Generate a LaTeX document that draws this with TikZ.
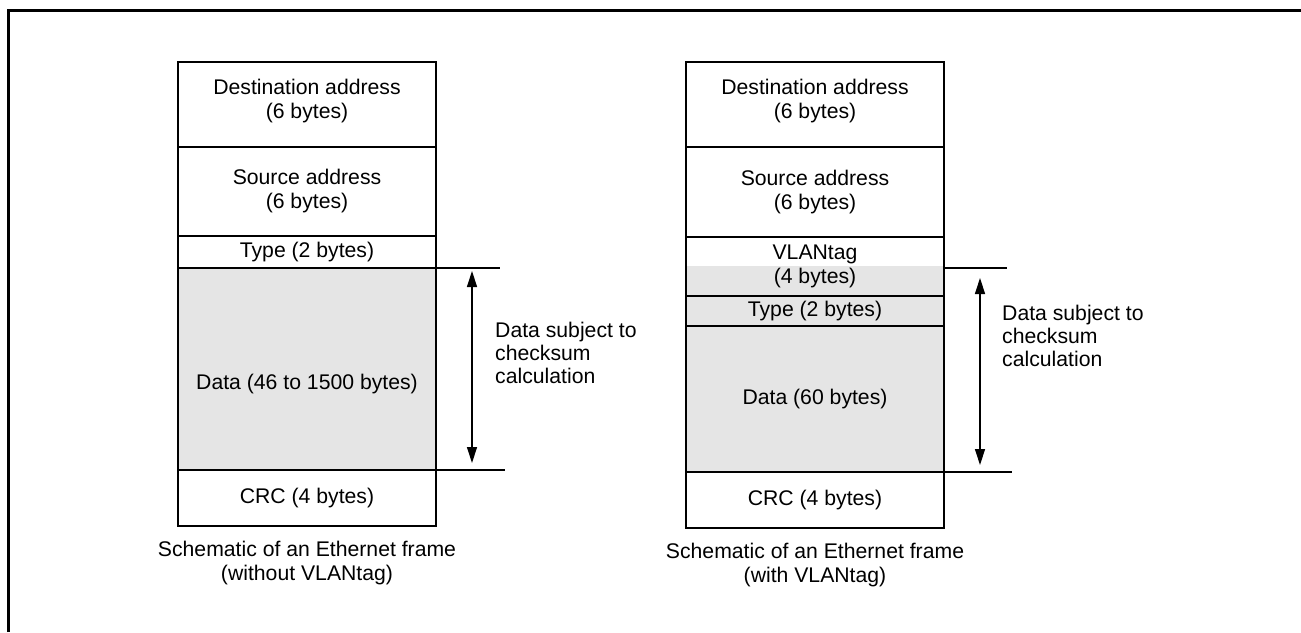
\documentclass[tikz,border=0pt]{standalone}
\usepackage{fontspec}
\setmainfont{Liberation Sans}
\usetikzlibrary{arrows.meta,positioning,backgrounds}
\definecolor{datagray}{gray}{0.9}
\tikzset{
  field/.style    ={draw, line width=2.8pt, minimum width=258pt, inner sep=0pt,
                    outer sep=0pt, align=center, font=\fontsize{21.2}{24}\selectfont},
  fdata/.style    ={field, fill=datagray},
  fnote/.style    ={align=left, inner sep=0pt, font=\fontsize{21.2}{23}\selectfont},
  fcap/.style     ={align=center, inner sep=0pt, font=\fontsize{21.2}{24}\selectfont},
  extline/.style  ={line width=2.6pt},
  dimarrow/.style ={{Triangle[length=16pt,width=10pt]}-{Triangle[length=16pt,width=10pt]},
                    line width=1.3pt},
  frameline/.style={line width=3pt},
}
\begin{document}
\begin{tikzpicture}[x=1pt, y=-1pt]
\useasboundingbox (0,0) rectangle (1301,632);

% outer frame (only top and left edges are visible)
\draw[frameline] (8,632) -- (8,10) -- (1301,10);

% frame without VLAN tag
\node[field, minimum height=85pt, text depth=12pt, anchor=north west] (dstA) at (178,62)
  {Destination address\\(6 bytes)};
\node[field, minimum height=89pt, below=0pt of dstA] (srcA) {Source address\\(6 bytes)};
\node[field, minimum height=32pt, below=0pt of srcA] (typeA) {Type (2 bytes)};
\node[fdata, minimum height=202pt, text height=45pt, below=0pt of typeA] (dataA)
  {Data (46 to 1500 bytes)};
\node[field, minimum height=56pt, below=0pt of dataA] (crcA) {CRC (4 bytes)};
\node[fcap, below=15pt of crcA] (capA)
  {Schematic of an Ethernet frame\\(without VLANtag)};

\draw[extline] (dataA.north east) -- ++(64,0) coordinate (topA);
\draw[extline] (dataA.south east) -- ++(69,0) coordinate (botA);
\draw[dimarrow, shorten <=3pt, shorten >=7pt]
  ([xshift=36pt]dataA.north east) -- ([xshift=36pt]dataA.south east);
\node[fnote, anchor=west] (chkA) at ([xshift=59pt, yshift=16pt]dataA.east)
  {Data subject to\\checksum\\calculation};

% frame with VLAN tag
\node[field, minimum height=85pt, text depth=12pt, anchor=north west] (dstB) at (686,62)
  {Destination address\\(6 bytes)};
\node[field, minimum height=90pt, below=0pt of dstB] (srcB) {Source address\\(6 bytes)};
\node[field, minimum height=59pt, below=0pt of srcB] (vlanB) {VLANtag\\(4 bytes)};
\node[fdata, minimum height=30pt, below=0pt of vlanB] (typeB) {Type (2 bytes)};
\node[fdata, minimum height=146pt, below=0pt of typeB] (dataB) {Data (60 bytes)};
\node[field, minimum height=56pt, below=0pt of dataB] (crcB) {CRC (4 bytes)};
\node[fcap, below=15pt of crcB] (capB)
  {Schematic of an Ethernet frame\\(with VLANtag)};

% lower half of the VLAN tag is checked too
\begin{scope}[on background layer]
  \fill[datagray] ([yshift=30pt]vlanB.south west) rectangle (vlanB.south east);
\end{scope}

\draw[extline] ([yshift=28pt]vlanB.south east) -- ++(63,0) coordinate (topB);
\draw[extline] (dataB.south east) -- ++(68,0) coordinate (botB);
\draw[dimarrow, shorten <=10pt, shorten >=7pt]
  ([xshift=36pt, yshift=28pt]vlanB.south east) -- ([xshift=36pt]dataB.south east);
\node[fnote, anchor=west] (chkB) at ([xshift=58pt, yshift=63pt]dataB.east)
  {Data subject to\\checksum\\calculation};

\end{tikzpicture}
\end{document}
